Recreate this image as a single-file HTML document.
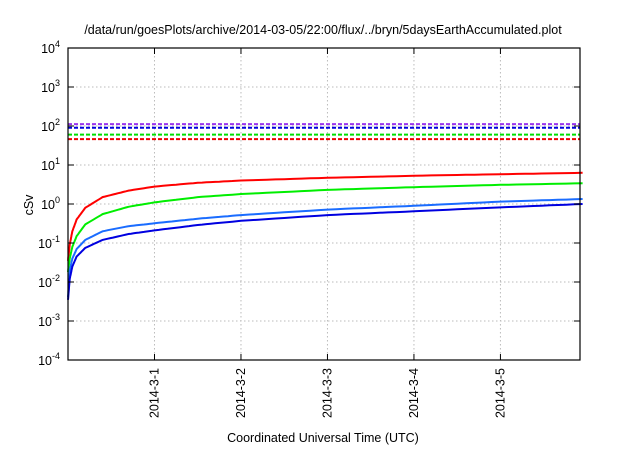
<!DOCTYPE html>
<html><head><meta charset="utf-8"><style>
body{margin:0;background:#fff}
svg text{font-family:"Liberation Sans",sans-serif;fill:#000}
</style></head><body>
<svg id="c" width="640" height="448" xmlns="http://www.w3.org/2000/svg">
<text x="323" y="34" font-size="12.5" text-anchor="middle">/data/run/goesPlots/archive/2014-03-05/22:00/flux/../bryn/5daysEarthAccumulated.plot</text>
<text x="323" y="442" font-size="12.5" text-anchor="middle">Coordinated Universal Time (UTC)</text>
<text transform="translate(33,205) rotate(-90)" font-size="12.5" text-anchor="middle">cSv</text>
<g id="grid"></g><g id="marks"></g><g id="axes"></g>
</svg>
<script>
const times=[0,0.02,0.05,0.1,0.2,0.4,0.7,1,1.5,2,3,4,5,5.95];
const redVals=[0.035,0.09,0.2,0.4,0.8,1.5,2.2,2.8,3.5,4.0,4.7,5.3,5.8,6.3];
const greenVals=[0.018,0.04,0.08,0.15,0.3,0.55,0.85,1.1,1.5,1.8,2.3,2.7,3.1,3.4];
const lightBlueVals=[0.004,0.02,0.04,0.07,0.12,0.2,0.27,0.32,0.42,0.52,0.72,0.9,1.15,1.34];
const darkBlueVals=[0.0035,0.012,0.025,0.045,0.075,0.12,0.17,0.21,0.29,0.37,0.52,0.65,0.82,1.0];
const limitVals=[112,90,60,46];
const xTickLabels=["2014-3-1","2014-3-2","2014-3-3","2014-3-4","2014-3-5"];
const xTickDays=[1,2,3,4,5];
const yExps=[-4,-3,-2,-1,0,1,2,3,4];

const L=68,R=580,T=48,B=360,NS="http://www.w3.org/2000/svg";
const x=d=>L+d*(R-L)/5.92;
const y=v=>B-(Math.log10(v)+4)*(B-T)/8;
function mk(p,t,a){const e=document.createElementNS(NS,t);for(const k in a)e.setAttribute(k,a[k]);p.appendChild(e);return e;}
const grid=document.getElementById('grid'),marks=document.getElementById('marks'),axes=document.getElementById('axes');
yExps.forEach(e=>{const yy=y(Math.pow(10,e));
 if(e>-4&&e<4){const g=mk(grid,'line',{x1:L,x2:R,y1:yy,y2:yy,stroke:'#bbb','stroke-dasharray':'1.5,2.5'});
 }
 const t=mk(axes,'text',{x:L-8,y:yy+5,'font-size':'12.5','text-anchor':'end'});
 
 t.textContent='10';const s=mk(t,'tspan',{dy:'-6','font-size':'9'});s.textContent=String(e);
 [[L,L+6],[R-6,R]].forEach(([a,b])=>{const tk=mk(axes,'line',{x1:a,x2:b,y1:yy,y2:yy,stroke:'#000'});
 });
});
xTickDays.forEach((d,i)=>{const xx=x(d);
 const g=mk(grid,'line',{x1:xx,x2:xx,y1:T,y2:B,stroke:'#bbb','stroke-dasharray':'1.5,2.5'});
 
 [[B-6,B],[T,T+6]].forEach(([a,b])=>{const tk=mk(axes,'line',{x1:xx,x2:xx,y1:a,y2:b,stroke:'#000'});
 });
 const t=mk(axes,'text',{transform:`translate(${xx+4},${B+8}) rotate(-90)`,'font-size':'12.5','text-anchor':'end'});
 t.textContent=xTickLabels[i];
});
const fr=mk(axes,'rect',{x:L,y:T,width:R-L,height:B-T,fill:'none',stroke:'#000','stroke-width':1.2});

const limColors=['#9933ee','#0000dd','#00dd00','#ee0000'];
limitVals.forEach((v,i)=>{const l=mk(marks,'line',{x1:L,x2:R,y1:y(v),y2:y(v),stroke:limColors[i],'stroke-width':2,'stroke-dasharray':'4,2'});
 });
const series=[[redVals,'#ff0000','red-series'],[greenVals,'#00ee00','green-series'],[lightBlueVals,'#1a6cff','light-blue-series'],[darkBlueVals,'#0000e0','dark-blue-series']];
series.forEach(([vals,c,n])=>{
 let pts=[];for(let i=0;i<times.length-1;i++){for(let k=0;k<10;k++){const f=k/10;
  const t=times[i]+(times[i+1]-times[i])*f;const lv=Math.log10(vals[i])+(Math.log10(vals[i+1])-Math.log10(vals[i]))*f;
  pts.push(x(t).toFixed(1)+','+y(Math.pow(10,lv)).toFixed(1));}}
 pts.push(x(times[times.length-1]).toFixed(1)+','+y(vals[vals.length-1]).toFixed(1));
 const p=mk(marks,'polyline',{points:pts.join(' '),fill:'none',stroke:c,'stroke-width':2});
 
});
</script>
</body></html>
